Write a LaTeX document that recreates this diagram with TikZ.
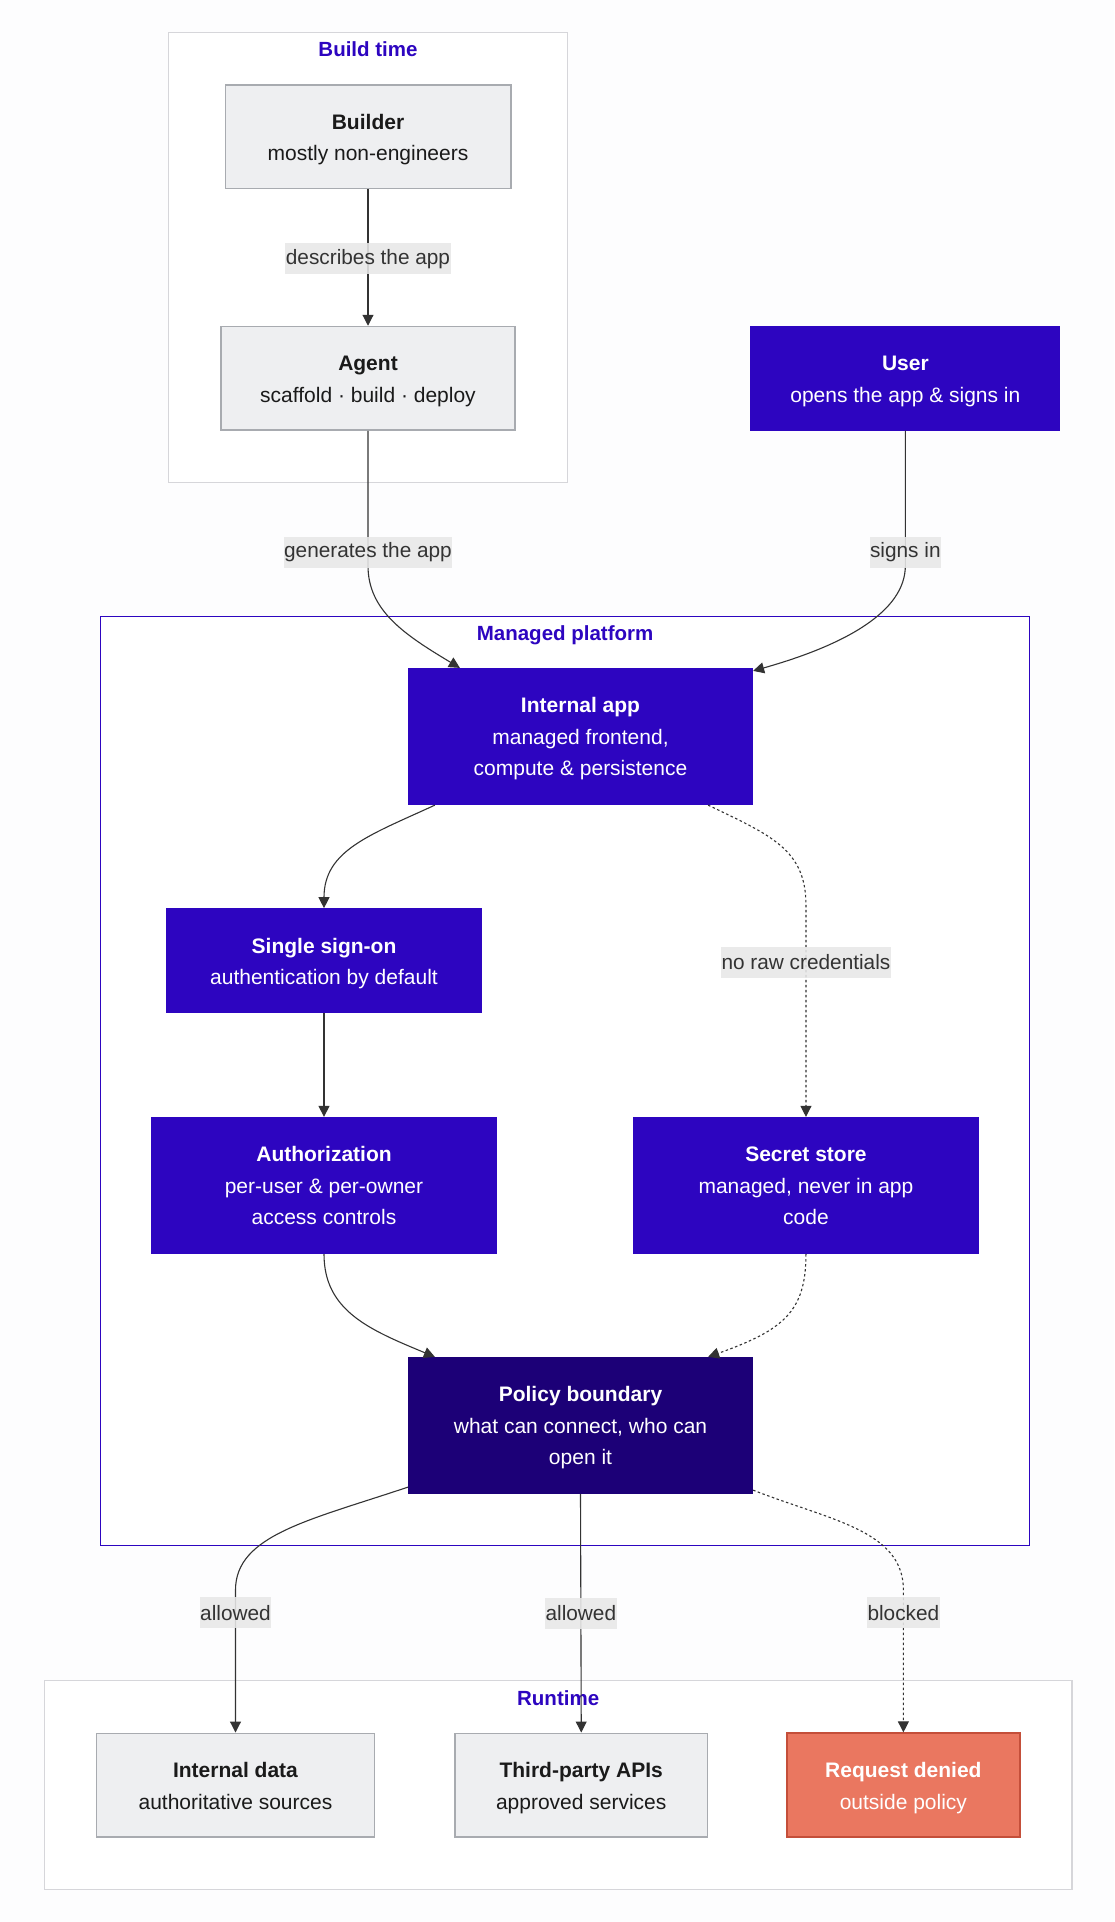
\documentclass[tikz,border=0pt]{standalone}
\usepackage{fontspec}
\setmainfont{Liberation Sans}
\usetikzlibrary{positioning,arrows.meta,fit,backgrounds}
\definecolor{pagewhite}{HTML}{FDFDFE}
\definecolor{brandblue}{HTML}{2D05C0}
\definecolor{branddark}{HTML}{1C0077}
\definecolor{palegray}{HTML}{EEEFF1}
\definecolor{edgegray}{HTML}{A8ABB0}
\definecolor{framegray}{HTML}{D6D6DA}
\definecolor{deniedred}{HTML}{EA7760}
\definecolor{deniededge}{HTML}{C44F3A}
\definecolor{inkdark}{HTML}{1A1A1A}
\definecolor{linedark}{HTML}{333333}
\tikzset{
    box/.style={rectangle, inner sep=0pt, align=center, line width=1.2pt, font=\fontsize{21}{31.5}\selectfont,
        text height=48pt, text depth=0pt},
    threelines/.style={text height=78.5pt},
    graybox/.style={box, draw=edgegray, fill=palegray, text=inkdark, line width=1.5pt},
    bluebox/.style={box, draw=brandblue, fill=brandblue, text=white},
    darkbox/.style={box, draw=branddark, fill=branddark, text=white},
    redbox/.style={box, draw=deniededge, fill=deniedred, text=white, line width=1.8pt},
    frame/.style={rectangle, draw=framegray, fill=white, line width=1.2pt, inner sep=51.5pt},
    bluefill/.style={frame, draw=brandblue, line width=1.1pt, inner sep=51pt},
    frametitle/.style={font=\fontsize{20.5}{24}\selectfont\bfseries, text=brandblue, inner sep=0pt},
    flow/.style={-{Triangle[length=11pt,width=11pt]}, line width=1.1pt, draw=linedark},
    dotflow/.style={flow, dash pattern=on 2.5pt off 2.5pt},
    edgelabel/.style={font=\fontsize{20.8}{24}\selectfont, text=linedark, fill=black!9, fill opacity=.88, text opacity=1,
        inner xsep=0.5pt, inner ysep=0pt, minimum height=31pt}
}
\begin{document}
\begin{tikzpicture}[x=1pt, y=1pt]
    \useasboundingbox (0,0) rectangle (1114,-1922);

    % boxes
    \node (builder) [graybox, minimum width=285.5pt, minimum height=103.5pt] at (368,-136.75) {\textbf{Builder}\\mostly non-engineers};
    \node (agent) [graybox, minimum width=294pt, minimum height=103.5pt, below=136.5pt of builder] {\textbf{Agent}\\scaffold · build · deploy};
    \node (user) [bluebox, minimum width=309pt, minimum height=103.5pt, right=234.5pt of agent] {\textbf{User}\\opens the app \& signs in};
    \node (app) [bluebox, threelines, minimum width=344pt, minimum height=136pt] at (580.5,-736.5) {\textbf{Internal app}\\managed frontend,\\compute \& persistence};
    \node (signon) [bluebox, minimum width=314pt, minimum height=104pt] at (324,-960.75) {\textbf{Single sign-on}\\authentication by default};
    \node (auth) [bluebox, threelines, minimum width=344pt, minimum height=136pt, below=103.5pt of signon] {\textbf{Authorization}\\per-user \& per-owner\\access controls};
    \node (secret) [bluebox, threelines, minimum width=344.5pt, minimum height=136pt, right=136.5pt of auth] {\textbf{Secret store}\\managed, never in app\\code};
    \node (policy) [darkbox, threelines, minimum width=344pt, minimum height=136pt] at (580.5,-1425.5) {\textbf{Policy boundary}\\what can connect, who can\\open it};
    \node (data) [graybox, minimum width=278pt, minimum height=103.5pt] at (235.5,-1785) {\textbf{Internal data}\\authoritative sources};
    \node (apis) [graybox, minimum width=252.5pt, minimum height=103.5pt, right=79pt of data] {\textbf{Third-party APIs}\\approved services};
    \node (denied) [redbox, minimum width=232.5pt, minimum height=103.5pt, right=78pt of apis] {\textbf{Request denied}\\outside policy};

    % frames
    \begin{scope}[on background layer]
        \fill[pagewhite] (0,0) rectangle (1114,-1922);
        \node (buildframe) [frame, fit=(builder)(agent)] {};
        \node (platformframe) [bluefill, fit=(app)(signon)(auth)(secret)(policy)] {};
        \node (runtimeframe) [frame, fit=(data)(apis)(denied)] {};
    \end{scope}
    \node (buildtitle) [frametitle] at ([yshift=-17pt]buildframe.north) {Build time};
    \node (platformtitle) [frametitle] at ([yshift=-19pt]platformframe.north) {Managed platform};
    \node (runtimetitle) [frametitle] at ([yshift=-17.5pt]runtimeframe.north) {Runtime};

    % arrows
    \draw[flow] (builder) -- node [edgelabel, pos=.51] {describes the app} (agent);
    \draw[flow] (agent.south) -- node [edgelabel, pos=.9] {generates the app} ++(0,-135)
        .. controls ++(0,-45) and ([shift={(-3pt,33pt)}]app.north west) .. ([xshift=52pt]app.north west);
    \draw[flow] (user.south) -- node [edgelabel, pos=.9] {signs in} ++(0,-135)
        .. controls ++(0,-46) and ([shift={(92pt,23pt)}]app.north east) .. ([yshift=-3pt]app.north east);
    \draw[flow] ([xshift=27pt]app.south west) .. controls +(-65,-30) and ([yshift=58pt]signon.north) .. (signon.north);
    \draw[flow] (signon) -- (auth);
    \draw[dotflow] ([xshift=-45pt]app.south east) .. controls +(62,-30) and ([yshift=56pt]secret.north |- 0,-905) .. (secret.north |- 0,-905)
        -- node [edgelabel, pos=.27] {no raw credentials} (secret.north);
    \draw[flow] (auth.south) .. controls +(0,-57) and ([shift={(-38pt,27pt)}]policy.north west) .. ([xshift=27pt]policy.north west);
    \draw[dotflow] (secret.south) .. controls +(0,-57) and ([shift={(31pt,27pt)}]policy.north east) .. ([xshift=-45pt]policy.north east);
    \draw[flow] ([yshift=7pt]policy.south west) .. controls +(-98,-33) and ([yshift=55pt]data.north |- 0,-1590) .. (data.north |- 0,-1590)
        -- node [edgelabel, pos=.16] {allowed} (data.north);
    \draw[flow] (policy.south) -- node [edgelabel, pos=.5] {allowed} (apis.north);
    \draw[dotflow] ([yshift=4pt]policy.south east) .. controls +(76,-30) and ([yshift=60pt]denied.north |- 0,-1590) .. (denied.north |- 0,-1590)
        -- node [edgelabel, pos=.16] {blocked} (denied.north);
\end{tikzpicture}
\end{document}
